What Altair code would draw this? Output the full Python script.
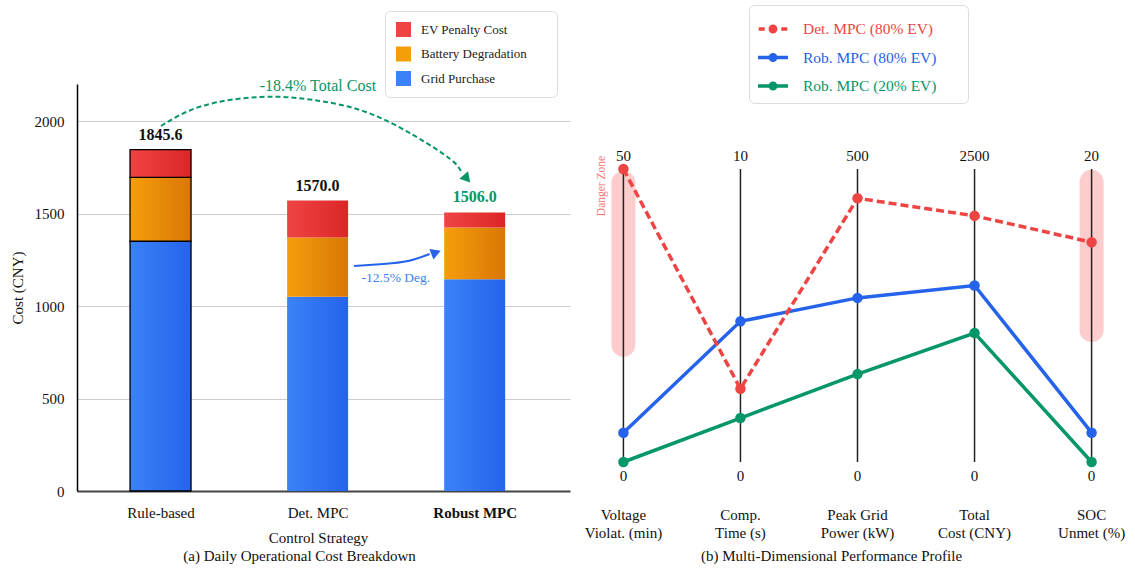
import json

import altair as alt
import pandas as pd

FONT = "Liberation Serif"
INK = "#111111"

# ---------------- panel (a): daily operational cost breakdown ----------------
strategies = ["Rule-based", "Det. MPC", "Robust MPC"]
grid_purchase = [1350.0, 1050.0, 1145.0]
battery_degradation = [345.0, 320.0, 280.0]
ev_penalty = [150.6, 200.0, 81.0]

cost_components = ["EV Penalty Cost", "Battery Degradation", "Grid Purchase"]
component_light = ["#ef4444", "#f59e0b", "#3b82f6"]
component_dark = ["#dc2626", "#d97706", "#2563eb"]

# annotation paths (strategy index, cost)
total_arc_pos = [0.003, 0.265, 0.640, 0.970, 1.307, 1.619, 1.844, 1.913]
total_arc_cost = [1973, 2081, 2130, 2114, 2049, 1919, 1795, 1728]
total_head = {"pos": 1.944, "cost": 1695}
total_note = {"pos": 1.002, "cost": 2189, "text": "-18.4% Total Cost"}

deg_arc_pos = [1.232, 1.420, 1.576, 1.713]
deg_arc_cost = [1216, 1227, 1243, 1281]
deg_head = {"pos": 1.744, "cost": 1286}
deg_note = {"pos": 1.498, "cost": 1151, "text": "-12.5% Deg."}

GREEN = "#059669"
BLUE = "#2563eb"

cost = pd.DataFrame({
    "pos": range(len(strategies)),
    "strategy": strategies,
    "grid": grid_purchase,
    "battery": battery_degradation,
    "penalty": ev_penalty,
})
cost["base"] = 0.0
cost["grid_top"] = cost["grid"]
cost["battery_top"] = cost["grid"] + cost["battery"]
cost["total"] = cost["battery_top"] + cost["penalty"]

x_scale = alt.Scale(domain=[-0.5, 2.575], nice=False, zero=False)
y_scale = alt.Scale(domain=[0, 2200], nice=False)

x_axis = alt.Axis(
    values=list(range(len(strategies))),
    labelExpr=json.dumps(strategies) + "[datum.value]",
    labelFontWeight={"condition": {"test": "datum.value == 2", "value": "bold"}, "value": "normal"},
    labelFont=FONT, labelFontSize=15, labelColor=INK, labelBaseline="middle", labelPadding=21,
    ticks=False, tickSize=0, grid=False,
    domainColor="#444444", domainWidth=2,
    title="Control Strategy", titleFont=FONT, titleFontSize=15, titleFontWeight="normal",
    titleColor=INK, titleX=241, titleY=46, titleBaseline="middle",
)
y_axis = alt.Axis(
    values=[0, 500, 1000, 1500, 2000], format="d",
    labelFont=FONT, labelFontSize=15, labelColor=INK, labelPadding=13,
    ticks=False, tickSize=0,
    grid=True, gridColor="#cccccc", gridWidth=1,
    domainColor="#000000", domainWidth=1.5,
    title="Cost (CNY)", titleFont=FONT, titleFontSize=15, titleFontWeight="normal",
    titleColor=INK, titlePadding=9,
)


def cx(field):
    return alt.X(f"{field}:Q", scale=x_scale, axis=x_axis)


def cy(field):
    return alt.Y(f"{field}:Q", scale=y_scale, axis=y_axis)


def gradient(c0, c1):
    return alt.Gradient(
        gradient="linear",
        stops=[alt.GradientStop(color=c0, offset=0), alt.GradientStop(color=c1, offset=1)],
        x1=0, x2=1, y1=0, y2=0,
    )


def segment(lo, hi, k):
    return alt.Chart(cost).mark_bar(
        width=61, color=gradient(component_light[k], component_dark[k])
    ).encode(
        x=cx("pos"),
        y=cy(hi),
        y2=alt.Y2(f"{lo}:Q"),
        stroke=alt.condition("datum.pos == 0", alt.value("#000000"), alt.value("transparent")),
        strokeWidth=alt.value(1.3),
    )


grid_bars = segment("base", "grid_top", 2)
battery_bars = segment("grid_top", "battery_top", 1)
penalty_bars = segment("battery_top", "total", 0)

total_labels = alt.Chart(cost).mark_text(
    font=FONT, fontSize=16, fontWeight="bold", baseline="middle", dy=-15
).encode(
    x=cx("pos"),
    y=cy("total"),
    text=alt.Text("total:Q", format=".1f"),
    color=alt.condition("datum.pos == 2", alt.value(GREEN), alt.value(INK)),
)


def by_value(names, outs):
    expr = outs[-1]
    for n, o in zip(reversed(names[:-1]), reversed(outs[:-1])):
        expr = f"datum.value === '{n}' ? {o} : ({expr})"
    return expr


def grad_js(c0, c1):
    return ("{gradient: 'linear', x1: 0, y1: 0, x2: 1, y2: 0, stops: "
            f"[{{offset: 0, color: '{c0}'}}, {{offset: 1, color: '{c1}'}}]}}")


swatch_fill = by_value(cost_components, [grad_js(a, b) for a, b in zip(component_light, component_dark)])

legend_rows = pd.DataFrame({"component": cost_components, "pos": [0] * 3, "cost": [0] * 3})
cost_legend = alt.Chart(legend_rows).mark_square(opacity=0, size=10).encode(
    x=cx("pos"),
    y=cy("cost"),
    color=alt.Color(
        "component:N",
        scale=alt.Scale(domain=cost_components, range=component_light),
        legend=alt.Legend(
            title=" ", titleOrient="right", titlePadding=19, titleFontSize=15,
            orient="none", legendX=308, legendY=-73,
            symbolType="square", symbolSize=225, symbolStrokeWidth=0, symbolOpacity=1,
            symbolFillColor={"expr": swatch_fill},
            labelFont=FONT, labelFontSize=13, labelColor="#222222", labelOffset=10,
            rowPadding=9.5, padding=11, fillColor="#ffffff", strokeColor="#dddddd",
            cornerRadius=5,
        ),
    ),
)

total_arc = pd.DataFrame({"i": range(len(total_arc_pos)), "pos": total_arc_pos, "cost": total_arc_cost})
total_arc_line = alt.Chart(total_arc).mark_line(
    interpolate="natural", color=GREEN, strokeWidth=2, strokeDash=[5, 3]
).encode(x=cx("pos"), y=cy("cost"), order="i:Q")
total_arc_head = alt.Chart(pd.DataFrame([total_head])).mark_point(
    shape="triangle", filled=True, size=130, angle=139, color=GREEN, opacity=1
).encode(x=cx("pos"), y=cy("cost"))
total_arc_text = alt.Chart(pd.DataFrame([total_note])).mark_text(
    font=FONT, fontSize=16, color=GREEN, baseline="middle"
).encode(x=cx("pos"), y=cy("cost"), text="text:N")

deg_arc = pd.DataFrame({"i": range(len(deg_arc_pos)), "pos": deg_arc_pos, "cost": deg_arc_cost})
deg_arc_line = alt.Chart(deg_arc).mark_line(
    interpolate="natural", color=BLUE, strokeWidth=2
).encode(x=cx("pos"), y=cy("cost"), order="i:Q")
deg_arc_head = alt.Chart(pd.DataFrame([deg_head])).mark_point(
    shape="triangle", filled=True, size=130, angle=69, color=BLUE, opacity=1
).encode(x=cx("pos"), y=cy("cost"))
deg_arc_text = alt.Chart(pd.DataFrame([deg_note])).mark_text(
    font=FONT, fontSize=13.5, color="#3b82f6", baseline="middle"
).encode(x=cx("pos"), y=cy("cost"), text="text:N")

panel_a = alt.layer(
    grid_bars, battery_bars, penalty_bars, total_labels, cost_legend,
    total_arc_line, total_arc_head, total_arc_text,
    deg_arc_line, deg_arc_head, deg_arc_text,
).properties(
    width=493, height=407,
    title=alt.TitleParams(
        "(a) Daily Operational Cost Breakdown", orient="bottom", anchor="middle",
        dx=-24, offset=4, font=FONT, fontSize=15, fontWeight="normal", color=INK,
    ),
)

# ---------------- panel (b): multi-dimensional performance profile ----------------
metric_names = ["Voltage\nViolat. (min)", "Comp.\nTime (s)", "Peak Grid\nPower (kW)",
                "Total\nCost (CNY)", "SOC\nUnmet (%)"]
axis_max = [50, 10, 500, 2500, 20]

series_names = ["Det. MPC (80% EV)", "Rob. MPC (80% EV)", "Rob. MPC (20% EV)"]
series_colors = ["#ef4444", "#2563eb", "#059669"]
series_dashed = [True, False, False]
det_mpc_80 = [50.0, 2.5, 450.0, 2100.0, 15.0]
rob_mpc_80 = [5.0, 4.8, 280.0, 1506.0, 2.0]
rob_mpc_20 = [0.0, 1.5, 150.0, 1100.0, 0.0]

danger_axes = [0, 4]
danger_lo = [0.40, 0.45]
danger_hi = [0.952, 0.956]
danger_label = {"axis": -0.183, "level": 0.942, "text": "Danger Zone"}

rows = []
for name, dashed, vals in zip(series_names, series_dashed, [det_mpc_80, rob_mpc_80, rob_mpc_20]):
    for i, (v, m) in enumerate(zip(vals, axis_max)):
        rows.append({"series": name, "dashed": dashed, "axis": i, "value": v, "level": v / m})
profile = pd.DataFrame(rows)

axes_df = pd.DataFrame({
    "axis": range(len(metric_names)),
    "lo": 0.0, "hi": 1.0,
    "top_label": [str(v) for v in axis_max],
    "bottom_label": ["0"] * len(metric_names),
    "name": metric_names,
})
danger_df = pd.DataFrame({"axis": danger_axes, "lo": danger_lo, "hi": danger_hi})

px_scale = alt.Scale(domain=[-0.2, 4.2], nice=False, zero=False)
py_scale = alt.Scale(domain=[-0.099, 1.290], nice=False, zero=False)


def px(field):
    return alt.X(f"{field}:Q", scale=px_scale, axis=None)


def py(field):
    return alt.Y(f"{field}:Q", scale=py_scale, axis=None)


series_color_scale = alt.Scale(domain=series_names, range=series_colors)

label_fill = by_value(series_names, [f"'{c}'" for c in series_colors])

# legend glyphs: line with a marker; the dashed series shows short dashes either side
DOT = "M-0.18,0A0.18,0.18,0,1,0,0.18,0A0.18,0.18,0,1,0,-0.18,0Z"
SOLID_GLYPH = "M-1,0H1" + DOT
DASHED_GLYPH = "M-0.95,0H-0.55M0.55,0H0.95" + DOT
symbol_shape = by_value(series_names, [f"'{DASHED_GLYPH}'" if d else f"'{SOLID_GLYPH}'"
                                       for d in series_dashed])

danger_bands = alt.Chart(danger_df).mark_rule(
    color="#f87171", opacity=0.35, strokeWidth=24, strokeCap="round"
).encode(x=px("axis"), y=py("lo"), y2=alt.Y2("hi:Q"))

axis_lines = alt.Chart(axes_df).mark_rule(color="#222222", strokeWidth=1.5).encode(
    x=px("axis"), y=py("lo"), y2=alt.Y2("hi:Q")
)

solid_lines = alt.Chart(profile[~profile["dashed"]]).mark_line(strokeWidth=3.5).encode(
    x=px("axis"),
    y=py("level"),
    color=alt.Color(
        "series:N", scale=series_color_scale,
        legend=alt.Legend(
            title=" ", titleOrient="right", titlePadding=25, titleFontSize=15,
            orient="none", legendX=149, legendY=-79,
            symbolType={"expr": symbol_shape},
            symbolSize=900, symbolStrokeWidth=3.5,
            symbolFillColor={"expr": label_fill},
            labelColor={"expr": label_fill},
            labelFont=FONT, labelFontSize=15.5, labelOffset=13, rowPadding=1.5, padding=7,
            fillColor="#ffffff", strokeColor="#dddddd", cornerRadius=5,
        ),
    ),
    order="axis:Q",
)

dashed_lines = alt.Chart(profile[profile["dashed"]]).mark_line(
    strokeWidth=3.5, strokeDash=[8, 4]
).encode(
    x=px("axis"), y=py("level"),
    color=alt.Color("series:N", scale=series_color_scale, legend=None),
    order="axis:Q",
)

profile_points = alt.Chart(profile).mark_circle(size=110, opacity=1).encode(
    x=px("axis"), y=py("level"),
    color=alt.Color("series:N", scale=series_color_scale, legend=None),
)

top_labels = alt.Chart(axes_df).mark_text(
    font=FONT, fontSize=15, color=INK, baseline="middle", dy=-13
).encode(x=px("axis"), y=py("hi"), text="top_label:N")
bottom_labels = alt.Chart(axes_df).mark_text(
    font=FONT, fontSize=15, color=INK, baseline="middle", dy=14
).encode(x=px("axis"), y=py("lo"), text="bottom_label:N")
metric_labels = alt.Chart(axes_df).mark_text(
    font=FONT, fontSize=15, color=INK, baseline="middle", lineBreak="\n", lineHeight=18, dy=53
).encode(x=px("axis"), y=py("lo"), text="name:N")

danger_text = alt.Chart(pd.DataFrame([danger_label])).mark_text(
    font=FONT, fontSize=11.5, color="#f87171", angle=270, baseline="middle", align="center"
).encode(x=px("axis"), y=py("level"), text="text:N")

panel_b = alt.layer(
    danger_bands, axis_lines, solid_lines, dashed_lines, profile_points,
    top_labels, bottom_labels, metric_labels, danger_text,
).properties(
    width=515, height=407,
    title=alt.TitleParams(
        "(b) Multi-Dimensional Performance Profile", orient="bottom", anchor="middle",
        dx=-26, offset=8, font=FONT, fontSize=15, fontWeight="normal", color=INK,
    ),
)

chart = alt.hconcat(panel_a, panel_b, spacing=30, bounds="flush").resolve_scale(
    color="independent"
).resolve_legend(color="independent").properties(
    padding={"left": 10, "top": 4, "right": 5, "bottom": 5},
    autosize=alt.AutoSizeParams(type="pad"),
    background="#ffffff",
).configure(font=FONT).configure_view(strokeWidth=0)

chart.save("out.html", embed_options={"renderer": "svg", "actions": False})
